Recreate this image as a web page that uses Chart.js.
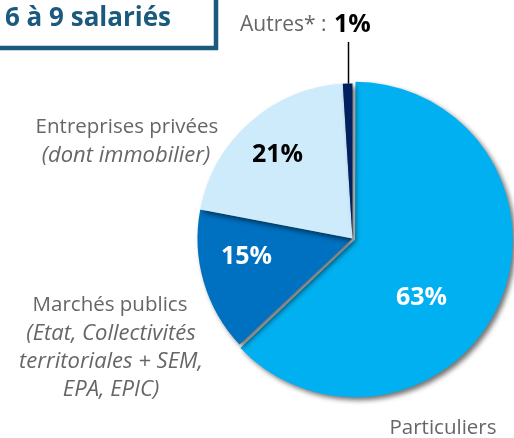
<!DOCTYPE html>
<html>
<head>
<meta charset="utf-8">
<script src="https://cdn.jsdelivr.net/npm/chart.js@4"></script>
<style>
  html, body { margin: 0; padding: 0; background: #fff; }
  #wrap { width: 514px; height: 438px; position: relative; }
</style>
</head>
<body>
<div id="wrap"><canvas id="pieChart"></canvas></div>
<script>
const categories = ['Particuliers', 'Marchés publics', 'Entreprises privées', 'Autres*'];
const shares = [63, 15, 21, 1];
const sliceColors = ['#00B0F0', '#0070C0', '#CDEBFB', '#002060'];
const pctColors = ['#ffffff', '#ffffff', '#000000', '#000000'];

const titleText = '6 à 9 salariés';
const entreprisesLines = ['Entreprises privées', '(dont immobilier)'];
const marchesLines = ['Marchés publics', '(Etat, Collectivités', 'territoriales + SEM,', 'EPA, EPIC)'];

const grey = '#666666';
const font = '"Open Sans", sans-serif';

// shadow under the slices
const shadowPlugin = {
  id: 'shadow',
  beforeDatasetsDraw(chart) {
    const ctx = chart.ctx;
    ctx.save();
    ctx.shadowColor = 'rgba(0,0,0,0.55)';
    ctx.shadowBlur = 5;
    ctx.shadowOffsetX = 3;
    ctx.shadowOffsetY = 3;
  },
  afterDatasetsDraw(chart) {
    chart.ctx.restore();
  }
};

// labels and the title box
const labelPlugin = {
  id: 'labels',
  afterDraw(chart) {
    const ctx = chart.ctx;
    const arcs = chart.getDatasetMeta(0).data;
    const cx = arcs[0].x, cy = arcs[0].y;
    const r = arcs[0].outerRadius;

    ctx.save();
    ctx.textAlign = 'center';
    ctx.textBaseline = 'middle';

    // percentages inside slices
    const spots = [[69, 59], [-106, 18], [-75, -84]];
    ctx.font = 'bold 25px ' + font;
    spots.forEach((s, i) => {
      ctx.fillStyle = pctColors[i];
      ctx.fillText(shares[i] + '%', cx + s[0], cy + s[1]);
    });

    // Autres: leader line + label
    const a = arcs[3];
    const mid = (a.startAngle + a.endAngle) / 2;
    const lx = Math.round(cx + Math.cos(mid) * r) + 0.5;
    ctx.strokeStyle = '#000';
    ctx.lineWidth = 1.5;
    ctx.beginPath();
    ctx.moveTo(lx, cy + Math.sin(mid) * r);
    ctx.lineTo(lx, 42);
    ctx.stroke();

    ctx.textAlign = 'left';
    ctx.font = '21px ' + font;
    ctx.fillStyle = grey;
    ctx.fillText(categories[3] + ' :', 240, 25);
    ctx.font = 'bold 25px ' + font;
    ctx.fillStyle = '#000';
    ctx.fillText(shares[3] + '%', 334, 25);

    // outside category labels
    ctx.textAlign = 'center';
    ctx.fillStyle = grey;
    ctx.font = '20.5px ' + font;
    ctx.fillText(entreprisesLines[0], 127, 127);
    ctx.font = 'italic 22px ' + font;
    ctx.fillText(entreprisesLines[1], 126, 156);

    ctx.font = '20.5px ' + font;
    ctx.fillText(marchesLines[0], 110, 305);
    ctx.font = 'italic 22px ' + font;
    for (let i = 1; i < marchesLines.length; i++) {
      ctx.fillText(marchesLines[i], 111, 306 + i * 28);
    }

    ctx.font = '20.5px ' + font;
    ctx.fillText(categories[0], 443, 428);

    // title box
    ctx.strokeStyle = '#1B5A7E';
    ctx.lineWidth = 4.5;
    ctx.strokeRect(-10, -10, 226, 58);
    ctx.fillStyle = '#1B5A7E';
    ctx.font = 'bold 26px ' + font;
    ctx.fillText(titleText, 88, 19);
    ctx.restore();
  }
};

new Chart(document.getElementById('pieChart'), {
  type: 'pie',
  data: {
    labels: categories,
    datasets: [{
      data: shares,
      backgroundColor: sliceColors,
      borderWidth: 0,
      offset: [11, 0, 0, 0]
    }]
  },
  options: {
    responsive: true,
    maintainAspectRatio: false,
    animation: false,
    layout: {
      padding: { left: 192, right: 1, top: 78, bottom: 39 }
    },
    plugins: {
      legend: { display: false },
      tooltip: { enabled: false }
    }
  },
  plugins: [shadowPlugin, labelPlugin]
});
</script>
</body>
</html>
